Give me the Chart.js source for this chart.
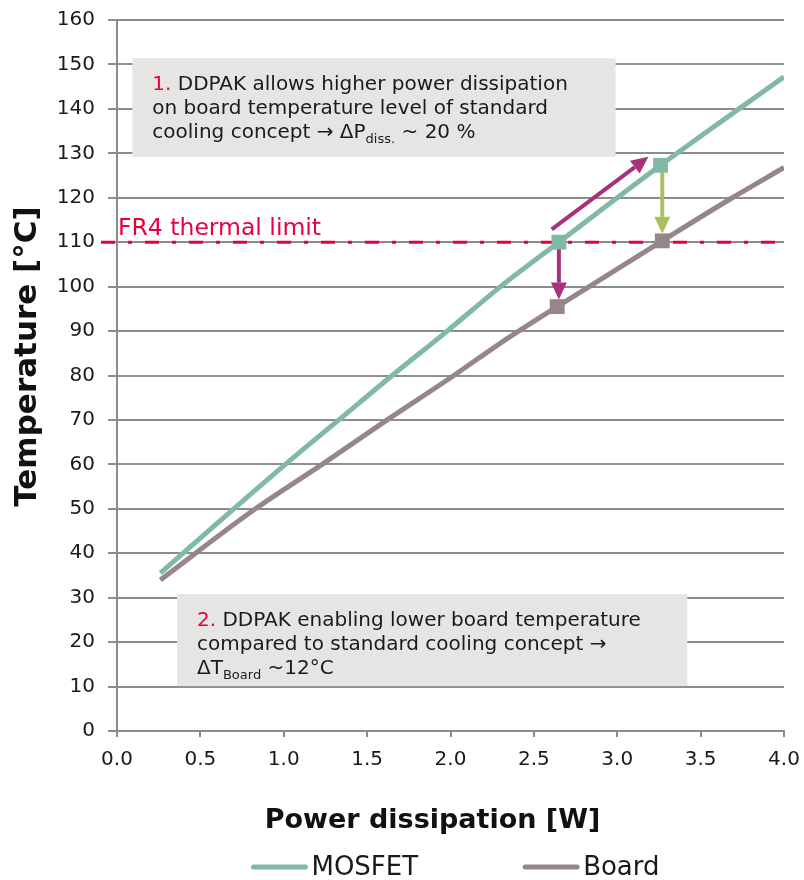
<!DOCTYPE html>
<html>
<head>
<meta charset="utf-8">
<script src="https://cdn.jsdelivr.net/npm/chart.js@4.4.1/dist/chart.umd.min.js"></script>
<style>
    html, body { margin: 0; padding: 0; background: #fff; }
    #wrap { width: 804px; height: 880px; position: relative; }
</style>
</head>
<body>
<div id="wrap"><canvas id="thermalChart"></canvas></div>
<script>
// MOSFET- und Board-Temperatur über Verlustleistung
const mosfetPower = [0.26, 0.70, 1.01, 1.33, 1.65, 1.98, 2.30, 2.65, 3.26, 3.73, 4.00];
const mosfetTemp  = [35.5, 50, 60, 70, 80, 90, 100, 110, 127.3, 140, 147.2];
const boardPower  = [0.26, 0.83, 1.23, 1.62, 2.02, 2.30, 2.64, 3.27, 3.69, 4.00];
const boardTemp   = [34, 50, 60, 70, 80, 87.3, 95.5, 110.3, 120, 126.8];

// markierte Arbeitspunkte
const mosfetMarkPower = [2.65, 3.26];
const mosfetMarkTemp  = [110, 127.3];
const boardMarkPower  = [2.64, 3.27];
const boardMarkTemp   = [95.5, 110.3];

const fr4Limit = 110;
const xMin = 0, xMax = 4, xStep = 0.5;
const yMin = 0, yMax = 160, yStep = 10;

const TEAL = '#82b8a6';
const MAUVE = '#978689';
const MAGENTA = '#a8327a';
const OLIVE = '#aabf62';
const RED = '#e8003d';
const GRID = '#8c8c8c';
const TEXT = '#1a1a1a';
const FONT = "'DejaVu Sans', Verdana, sans-serif";

function toPoints(xs, ys) {
    return xs.map((x, i) => ({ x: x, y: ys[i] }));
}

// Pfeile (Datenkoordinaten)
const arrows = [
    { from: [2.607, 112.9], to: [3.187, 129.2], color: MAGENTA },
    { from: [2.65, 108.4], to: [2.65, 97.1], color: MAGENTA },
    { from: [3.27, 125.7], to: [3.27, 111.9], color: OLIVE }
];

// Textkästen
const notes = [
    {
        box: [0.092, 151.4, 2.99, 129.2],
        lines: [
            [{ t: '1. ', c: RED }, { t: 'DDPAK allows higher power dissipation' }],
            [{ t: 'on board temperature level of standard' }],
            [{ t: 'cooling concept \u2192 \u0394P' }, { t: 'diss.', sub: true }, { t: ' ~ 20 %' }]
        ]
    },
    {
        box: [0.36, 30.8, 3.42, 10.1],
        lines: [
            [{ t: '2. ', c: RED }, { t: 'DDPAK enabling lower board temperature' }],
            [{ t: 'compared to standard cooling concept \u2192' }],
            [{ t: '\u0394T' }, { t: 'Board', sub: true }, { t: ' ~12\u00b0C' }]
        ]
    }
];

function drawRuns(ctx, runs, x, y) {
    runs.forEach(r => {
        ctx.fillStyle = r.c || TEXT;
        if (r.sub) {
            ctx.font = '13px ' + FONT;
            ctx.fillText(r.t, x, y + 5);
        } else {
            ctx.font = '20px ' + FONT;
            ctx.fillText(r.t, x, y);
        }
        x += ctx.measureText(r.t).width;
    });
}

function drawArrow(ctx, x1, y1, x2, y2, color) {
    const ang = Math.atan2(y2 - y1, x2 - x1);
    const headLen = 17, headW = 8;
    const bx = x2 - Math.cos(ang) * headLen;
    const by = y2 - Math.sin(ang) * headLen;
    ctx.save();
    ctx.strokeStyle = color;
    ctx.fillStyle = color;
    ctx.lineWidth = 4;
    ctx.beginPath();
    ctx.moveTo(x1, y1);
    ctx.lineTo(bx, by);
    ctx.stroke();
    ctx.beginPath();
    ctx.moveTo(x2, y2);
    ctx.lineTo(bx + Math.sin(ang) * headW, by - Math.cos(ang) * headW);
    ctx.lineTo(bx - Math.sin(ang) * headW, by + Math.cos(ang) * headW);
    ctx.closePath();
    ctx.fill();
    ctx.restore();
}

const annotationPlugin = {
    id: 'thermalAnnotations',
    beforeDatasetsDraw(chart) {
        const { ctx, chartArea, scales: { x, y } } = chart;
        ctx.save();
        // Kästen
        notes.forEach(n => {
            const l = x.getPixelForValue(n.box[0]);
            const t = y.getPixelForValue(n.box[1]);
            const r = x.getPixelForValue(n.box[2]);
            const b = y.getPixelForValue(n.box[3]);
            ctx.fillStyle = '#e6e5e3';
            ctx.fillRect(l, t, r - l, b - t);
            ctx.textBaseline = 'alphabetic';
            ctx.textAlign = 'left';
            n.lines.forEach((line, i) => drawRuns(ctx, line, l + 20, t + 32 + i * 24));
        });
        // FR4-Grenze
        const yl = y.getPixelForValue(fr4Limit);
        ctx.strokeStyle = RED;
        ctx.lineWidth = 3;
        ctx.setLineDash([14, 13, 4, 13]);
        ctx.beginPath();
        ctx.moveTo(chartArea.left - 16, yl);
        ctx.lineTo(chartArea.right, yl);
        ctx.stroke();
        ctx.setLineDash([]);
        ctx.fillStyle = RED;
        ctx.font = '23.5px ' + FONT;
        ctx.fillText('FR4 thermal limit', chartArea.left + 1, yl - 7);
        ctx.restore();
    },
    afterDatasetsDraw(chart) {
        const { ctx, scales: { x, y } } = chart;
        arrows.forEach(a => {
            drawArrow(ctx,
                x.getPixelForValue(a.from[0]), y.getPixelForValue(a.from[1]),
                x.getPixelForValue(a.to[0]), y.getPixelForValue(a.to[1]),
                a.color);
        });
    },
    afterDraw(chart) {
        const { ctx, chartArea } = chart;
        ctx.save();
        ctx.font = 'bold 27px ' + FONT;
        ctx.fillStyle = '#111';
        ctx.textAlign = 'center';
        ctx.textBaseline = 'middle';
        // x-Achsentitel
        ctx.fillText('Power dissipation [W]', (chartArea.left + chartArea.right) / 2 - 18, chartArea.bottom + 90);
        // y-Achsentitel
        ctx.font = 'bold 31px ' + FONT;
        ctx.translate(28, (chartArea.top + chartArea.bottom) / 2 - 19);
        ctx.rotate(-Math.PI / 2);
        ctx.fillText('Temperature [\u00b0C]', 0, 0);
        ctx.restore();

        // Legende
        const items = chart.data.datasets.filter(d => !d.isMarker);
        ctx.save();
        ctx.font = '26px ' + FONT;
        ctx.textBaseline = 'middle';
        const sample = 56, gap = 4, spacing = 105;
        const widths = items.map(d => sample + gap + ctx.measureText(d.label).width);
        const total = widths.reduce((a, b) => a + b, 0) + spacing * (items.length - 1);
        let cx = (chartArea.left + chartArea.right) / 2 + 5 - total / 2;
        const cy = 867;
        items.forEach((d, i) => {
            ctx.strokeStyle = d.borderColor;
            ctx.lineWidth = 5;
            ctx.lineCap = 'round';
            ctx.beginPath();
            ctx.moveTo(cx + 2, cy);
            ctx.lineTo(cx + sample - 2, cy);
            ctx.stroke();
            ctx.fillStyle = TEXT;
            ctx.fillText(d.label, cx + sample + gap, cy + 1);
            cx += widths[i] + spacing;
        });
        ctx.restore();
    }
};

const ctx = document.getElementById('thermalChart').getContext('2d');
new Chart(ctx, {
    type: 'line',
    data: {
        datasets: [
            {
                label: 'MOSFET marks',
                isMarker: true,
                data: toPoints(mosfetMarkPower, mosfetMarkTemp),
                showLine: false,
                pointStyle: 'rect',
                pointRadius: 10.5,
                pointBackgroundColor: TEAL,
                pointBorderWidth: 0,
                order: 0
            },
            {
                label: 'Board marks',
                isMarker: true,
                data: toPoints(boardMarkPower, boardMarkTemp),
                showLine: false,
                pointStyle: 'rect',
                pointRadius: 10.5,
                pointBackgroundColor: MAUVE,
                pointBorderWidth: 0,
                order: 0
            },
            {
                label: 'MOSFET',
                data: toPoints(mosfetPower, mosfetTemp),
                borderColor: TEAL,
                borderWidth: 5,
                cubicInterpolationMode: 'monotone',
                pointRadius: 0,
                fill: false,
                order: 1
            },
            {
                label: 'Board',
                data: toPoints(boardPower, boardTemp),
                borderColor: MAUVE,
                borderWidth: 5,
                cubicInterpolationMode: 'monotone',
                pointRadius: 0,
                fill: false,
                order: 1
            }
        ]
    },
    options: {
        responsive: true,
        maintainAspectRatio: false,
        animation: false,
        layout: {
            padding: { top: 20, right: 20, bottom: 0, left: 0 }
        },
        plugins: {
            legend: { display: false },
            tooltip: { enabled: false }
        },
        scales: {
            x: {
                type: 'linear',
                min: xMin,
                max: xMax,
                ticks: {
                    stepSize: xStep,
                    callback: v => v.toFixed(1),
                    font: { family: FONT, size: 20 },
                    color: TEXT,
                    padding: 11,
                    maxRotation: 0,
                    autoSkip: false
                },
                grid: {
                    drawOnChartArea: false,
                    drawTicks: true,
                    tickLength: 6,
                    color: GRID,
                    lineWidth: 2
                },
                border: { color: GRID, width: 2 },
                afterFit(scale) {
                    scale.height = 149;
                    scale.paddingLeft = 0;
                    scale.paddingRight = 0;
                }
            },
            y: {
                min: yMin,
                max: yMax,
                ticks: {
                    stepSize: yStep,
                    font: { family: FONT, size: 20 },
                    color: TEXT,
                    padding: 13
                },
                grid: {
                    color: GRID,
                    lineWidth: 2,
                    tickLength: 9
                },
                border: { color: GRID, width: 2 },
                afterFit(scale) {
                    scale.width = 117;
                    scale.paddingTop = 0;
                    scale.paddingBottom = 0;
                }
            }
        }
    },
    plugins: [annotationPlugin]
});
</script>
</body>
</html>
